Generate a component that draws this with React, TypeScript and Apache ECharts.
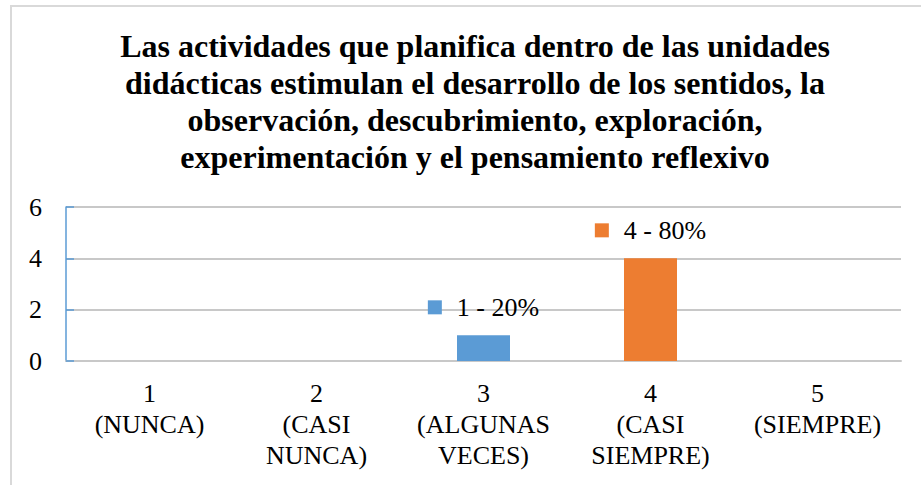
import React, { useEffect, useRef } from "react";
import * as echarts from "echarts";

const categories = [
  "1\n(NUNCA)",
  "2\n(CASI\nNUNCA)",
  "3\n(ALGUNAS\nVECES)",
  "4\n(CASI\nSIEMPRE)",
  "5\n(SIEMPRE)",
];
const values = [0, 0, 1, 4, 0];
const percents = ["0%", "0%", "20%", "80%", "0%"];
const barColors = ["#A5A5A5", "#FFC000", "#5B9BD5", "#ED7D31", "#4472C4"];
const yTicks = { min: 0, max: 6, interval: 2 };
const titleText =
  "Las actividades que planifica dentro de las unidades\n" +
  "didácticas estimulan el desarrollo de los sentidos, la\n" +
  "observación, descubrimiento, exploración,\n" +
  "experimentación y el pensamiento reflexivo";

const FONT = "Liberation Serif";
const GRID_GRAY = "rgb(200,200,200)";

export default function App() {
  const ref = useRef<HTMLDivElement>(null);
  useEffect(() => {
    if (!ref.current) return;
    const chart = echarts.init(ref.current, null, { renderer: "svg" });
    chart.setOption({
      animation: false,
      backgroundColor: "#ffffff",
      textStyle: { fontFamily: FONT },
      title: {
        text: titleText,
        left: 470,
        top: 22,
        textAlign: "center",
        textStyle: {
          fontFamily: FONT,
          fontWeight: "bold",
          fontSize: 32,
          lineHeight: 37,
          color: "#000000",
        },
      },
      graphic: [
        {
          type: "line",
          shape: { x1: 10, y1: 6, x2: 921, y2: 6 },
          style: { stroke: "#d9d9d9", lineWidth: 2 },
        },
        {
          type: "line",
          shape: { x1: 11, y1: 6, x2: 11, y2: 485 },
          style: { stroke: "#d9d9d9", lineWidth: 2 },
        },
      ],
      grid: { left: 66, right: 20, top: 207, bottom: 124 },
      xAxis: {
        type: "category",
        data: categories,
        axisLine: { show: true, lineStyle: { color: GRID_GRAY, width: 2 } },
        axisTick: { show: false },
        splitLine: { show: false },
        axisLabel: {
          fontFamily: FONT,
          fontSize: 26,
          lineHeight: 31,
          color: "#000000",
          margin: 17,
          interval: 0,
        },
      },
      yAxis: {
        type: "value",
        min: yTicks.min,
        max: yTicks.max,
        interval: yTicks.interval,
        axisLine: { show: true, lineStyle: { color: "#5B9BD5", width: 1.5 } },
        axisTick: { show: true, inside: true, length: 8, lineStyle: { color: "#5B9BD5", width: 1.5 } },
        splitLine: { show: true, lineStyle: { color: GRID_GRAY, width: 2 } },
        axisLabel: {
          fontFamily: FONT,
          fontSize: 26,
          color: "#000000",
          margin: 24,
        },
      },
      series: [
        {
          type: "bar",
          barWidth: 53,
          data: values.map((v, i) => ({
            value: v,
            itemStyle: { color: barColors[i] },
            label: {
              show: v > 0,
              position: "top",
              distance: 15,
              formatter: `{sq${i}|}{gap|}{t|${v} - ${percents[i]}}`,
              rich: {
                ["sq" + i]: { width: 14, height: 14, backgroundColor: barColors[i] },
                gap: { width: 15 },
                t: { fontFamily: FONT, fontSize: 26, color: "#000000" },
              },
            },
          })),
        },
      ],
    });
    return () => chart.dispose();
  }, []);
  return (
    <div
      ref={ref}
      style={{ position: "fixed", left: 0, top: 0, width: 921, height: 485 }}
    />
  );
}
